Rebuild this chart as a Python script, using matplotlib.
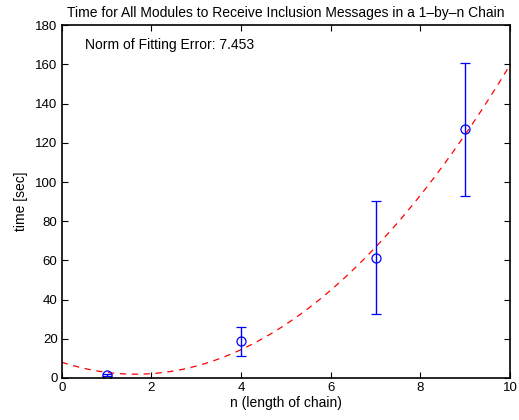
import matplotlib
matplotlib.use('Agg')
import matplotlib.pyplot as plt
import numpy as np

plt.rcParams['font.family'] = ['Liberation Sans', 'DejaVu Sans']

# Data
n = np.array([1, 4, 7, 9])
t_mean = np.array([1.5, 18.9, 61.3, 126.8])
t_low = np.array([1.0, 11.4, 32.6, 93.0])
t_high = np.array([2.0, 26.2, 90.3, 160.5])

# quadratic fit through the means
coef = np.polyfit(n, t_mean, 2)
xf = np.linspace(0, 10, 200)
yf = np.polyval(coef, xf)

fig = plt.figure(figsize=(5.19, 4.2), dpi=100)
ax = fig.add_axes([0.119, 0.100, 0.864, 0.840])

ax.plot(xf, yf, '--', color='red', lw=0.9, dashes=(5, 4.5))
ax.errorbar(n, t_mean, yerr=[t_mean - t_low, t_high - t_mean], fmt='o',
            mfc='none', mec='blue', ecolor='blue', color='blue',
            ms=6.5, mew=0.9, elinewidth=1.0, capsize=3.5, capthick=1.0)

ax.set_xlim(0, 10)
ax.set_ylim(0, 180)
ax.set_xticks(np.arange(0, 11, 2))
ax.set_yticks(np.arange(0, 181, 20))
ax.tick_params(direction='in', top=True, right=True, length=4, width=0.8,
               labelsize=9.5, pad=3)
for s in ax.spines.values():
    s.set_linewidth(1.2)

ax.set_title('Time for All Modules to Receive Inclusion Messages in a 1\u2013by\u2013n Chain',
             fontsize=10, pad=6)
ax.set_xlabel('n (length of chain)', fontsize=10, labelpad=1)
ax.set_ylabel('time [sec]', fontsize=10, labelpad=5)
ax.text(0.51, 170, 'Norm of Fitting Error: 7.453', fontsize=10, va='center')

fig.savefig('out.png', dpi=100)
